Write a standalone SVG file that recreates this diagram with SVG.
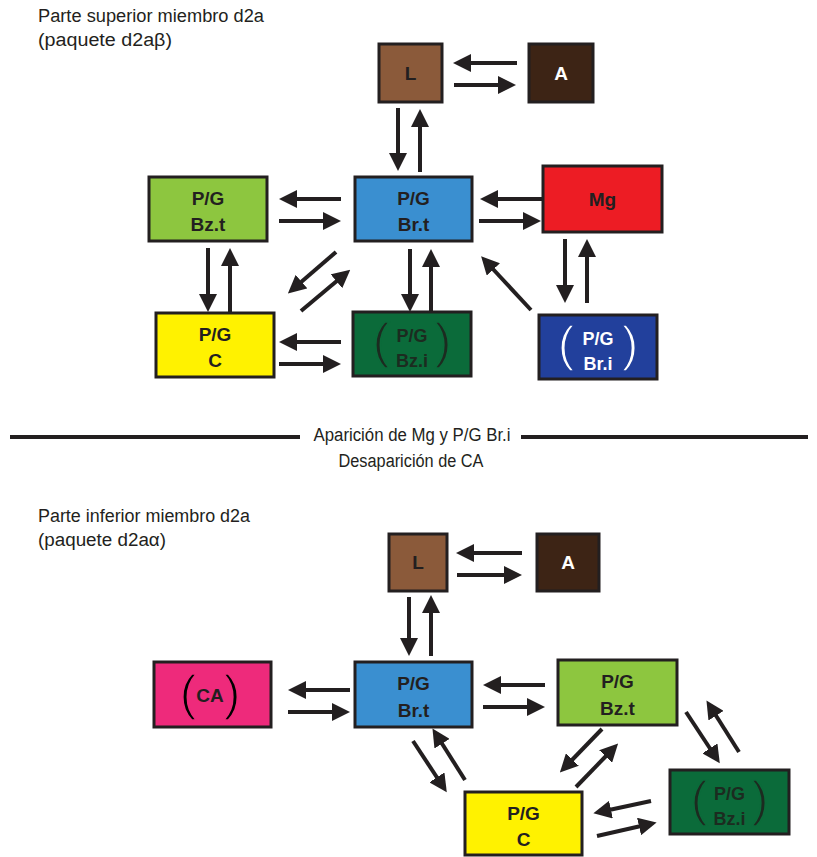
<svg xmlns="http://www.w3.org/2000/svg" width="817" height="857" viewBox="0 0 817 857">
<defs>
<marker id="ah" markerUnits="userSpaceOnUse" markerWidth="18" markerHeight="18" refX="2" refY="9" orient="auto">
<path d="M0,0 L18,9 L0,18 z" fill="#231f20"/>
</marker>
<style>
.box{stroke:#231f20;stroke-width:3}
.t{font-family:'Liberation Sans',Arial,sans-serif;font-weight:bold;font-size:19px;text-anchor:middle;fill:#231f20}
.s{font-size:18px}
.w{fill:#ffffff}
.g{fill:#1c2b20}
.par{font-family:'Liberation Sans',Arial,sans-serif;font-weight:normal;font-size:50px;text-anchor:middle}
.lbl{font-family:'Liberation Sans',Arial,sans-serif;font-size:18px;fill:#231f20}
.mid{font-family:'Liberation Sans',Arial,sans-serif;font-size:18px;fill:#231f20;text-anchor:middle}
#conn line{stroke:#231f20;stroke-width:4;marker-end:url(#ah)}
</style>
</defs>
<rect width="817" height="857" fill="#ffffff"/>

<g id="labels">
<text class="lbl" x="38" y="22" textLength="226" lengthAdjust="spacingAndGlyphs">Parte superior miembro d2a</text>
<text class="lbl" x="38" y="46" textLength="134" lengthAdjust="spacingAndGlyphs">(paquete d2aβ)</text>
<text class="lbl" x="38" y="522" textLength="212" lengthAdjust="spacingAndGlyphs">Parte inferior miembro d2a</text>
<text class="lbl" x="38" y="546" textLength="128" lengthAdjust="spacingAndGlyphs">(paquete d2aα)</text>
</g>

<g id="divider">
<line x1="10" y1="437" x2="300" y2="437" stroke="#231f20" stroke-width="4"/>
<line x1="521" y1="437" x2="808" y2="437" stroke="#231f20" stroke-width="4"/>
<text class="mid" x="412" y="441" textLength="197" lengthAdjust="spacingAndGlyphs">Aparición de Mg y P/G Br.i</text>
<text class="mid" x="411" y="467" textLength="145" lengthAdjust="spacingAndGlyphs">Desaparición de CA</text>
</g>

<!-- Top section nodes -->
<g id="top-L"><rect class="box" x="379" y="44" width="63" height="58" fill="#8b5a3a"/><text class="t" x="410.5" y="80">L</text></g>
<g id="top-A"><rect class="box" x="529" y="44" width="64" height="58" fill="#3d2415"/><text class="t w" x="561" y="80">A</text></g>
<g id="top-Bzt"><rect class="box" x="149" y="177" width="118" height="64" fill="#8dc63f"/><text class="t" x="208" y="205">P/G</text><text class="t" x="208" y="231">Bz.t</text></g>
<g id="top-Brt"><rect class="box" x="355" y="177" width="117" height="64" fill="#3a8fd0"/><text class="t" x="413.5" y="205">P/G</text><text class="t" x="413.5" y="231">Br.t</text></g>
<g id="top-Mg"><rect class="box" x="543" y="166" width="119" height="66" fill="#ed1c24"/><text class="t" x="602.5" y="206">Mg</text></g>
<g id="top-C"><rect class="box" x="156" y="313" width="118" height="64" fill="#fff200"/><text class="t" x="215" y="341">P/G</text><text class="t" x="215" y="367">C</text></g>
<g id="top-Bzi"><rect class="box" x="353" y="312" width="118" height="64" fill="#0b6b3a"/><text class="t s g" x="412" y="342">P/G</text><text class="t s g" x="412" y="367">Bz.i</text><text class="par g" x="381" y="358" stroke="#0b6b3a" stroke-width="1.5">(</text><text class="par g" x="443" y="358" stroke="#0b6b3a" stroke-width="1.5">)</text></g>
<g id="top-Bri"><rect class="box" x="539" y="315" width="118" height="64" fill="#22409c"/><text class="t s w" x="598" y="345">P/G</text><text class="t s w" x="598" y="370">Br.i</text><text class="par w" x="566" y="361" stroke="#22409c" stroke-width="1.5">(</text><text class="par w" x="630" y="361" stroke="#22409c" stroke-width="1.5">)</text></g>

<!-- Bottom section nodes -->
<g id="bot-L"><rect class="box" x="389" y="534" width="58" height="57" fill="#8b5a3a"/><text class="t" x="418" y="569">L</text></g>
<g id="bot-A"><rect class="box" x="537" y="534" width="62" height="57" fill="#3d2415"/><text class="t w" x="568" y="569">A</text></g>
<g id="bot-CA"><rect class="box" x="154" y="662" width="117" height="65" fill="#ee2a7b"/><text class="t" x="210" y="702">CA</text><text class="par" x="188" y="710" stroke="#ee2a7b" stroke-width="1.5">(</text><text class="par" x="232" y="710" stroke="#ee2a7b" stroke-width="1.5">)</text></g>
<g id="bot-Brt"><rect class="box" x="355" y="662" width="117" height="65" fill="#3a8fd0"/><text class="t" x="413.5" y="690">P/G</text><text class="t" x="413.5" y="717">Br.t</text></g>
<g id="bot-Bzt"><rect class="box" x="558" y="660" width="119" height="65" fill="#8dc63f"/><text class="t" x="617.5" y="688">P/G</text><text class="t" x="617.5" y="715">Bz.t</text></g>
<g id="bot-C"><rect class="box" x="465" y="792" width="117" height="63" fill="#fff200"/><text class="t" x="523.5" y="820">P/G</text><text class="t" x="523.5" y="846">C</text></g>
<g id="bot-Bzi"><rect class="box" x="670" y="770" width="119" height="64" fill="#0b6b3a"/><text class="t s g" x="729.5" y="800">P/G</text><text class="t s g" x="729.5" y="825">Bz.i</text><text class="par g" x="699" y="816" stroke="#0b6b3a" stroke-width="1.5">(</text><text class="par g" x="760" y="816" stroke="#0b6b3a" stroke-width="1.5">)</text></g>

<g id="conn">
<!-- top -->
<line x1="517" y1="63" x2="469" y2="63"/>
<line x1="454" y1="85" x2="500" y2="85"/>
<line x1="398" y1="108" x2="398" y2="155"/>
<line x1="420" y1="172" x2="420" y2="125"/>
<line x1="341" y1="199" x2="295" y2="199"/>
<line x1="279" y1="221" x2="325" y2="221"/>
<line x1="542" y1="199" x2="496" y2="199"/>
<line x1="479" y1="221" x2="525" y2="221"/>
<line x1="208" y1="248" x2="208" y2="296"/>
<line x1="230" y1="313" x2="230" y2="264"/>
<line x1="336" y1="252" x2="300" y2="283"/>
<line x1="301" y1="311" x2="338" y2="280"/>
<line x1="410" y1="249" x2="410" y2="296"/>
<line x1="431" y1="313" x2="431" y2="265"/>
<line x1="531" y1="310" x2="492" y2="268"/>
<line x1="565" y1="239" x2="565" y2="287"/>
<line x1="587" y1="303" x2="587" y2="255"/>
<line x1="341" y1="342" x2="295" y2="342"/>
<line x1="279" y1="364" x2="325" y2="364"/>
<!-- bottom -->
<line x1="522" y1="553" x2="472" y2="553"/>
<line x1="457" y1="575" x2="506" y2="575"/>
<line x1="409" y1="597" x2="409" y2="640"/>
<line x1="431" y1="656" x2="431" y2="611"/>
<line x1="350" y1="690" x2="304" y2="690"/>
<line x1="288" y1="712" x2="334" y2="712"/>
<line x1="545" y1="685" x2="499" y2="685"/>
<line x1="483" y1="707" x2="529" y2="707"/>
<line x1="413" y1="741" x2="438" y2="779"/>
<line x1="465" y1="780" x2="441" y2="742"/>
<line x1="602" y1="729" x2="571" y2="761"/>
<line x1="576" y1="787" x2="607" y2="755"/>
<line x1="686" y1="712" x2="711" y2="750"/>
<line x1="739" y1="752" x2="715" y2="714"/>
<line x1="651" y1="801" x2="609" y2="810"/>
<line x1="597" y1="836" x2="641" y2="826"/>
</g>
</svg>
